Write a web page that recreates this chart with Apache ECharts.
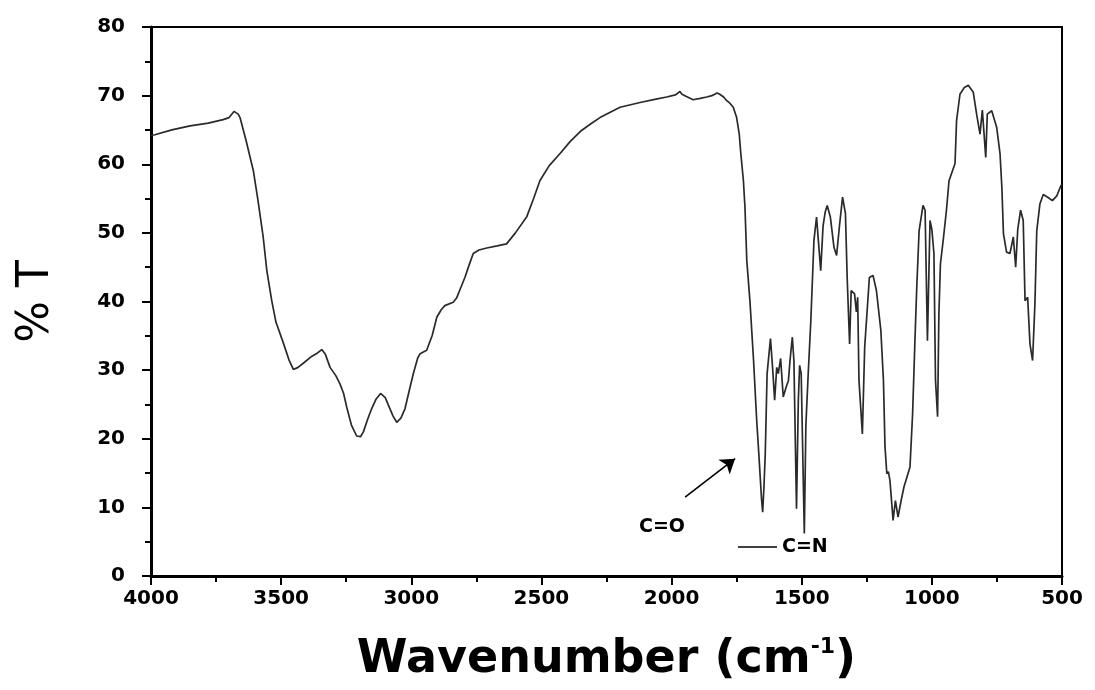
<!DOCTYPE html>
<html>
<head>
<meta charset="utf-8">
<script src="https://cdn.jsdelivr.net/npm/echarts@6/dist/echarts.min.js"></script>
<style>
html,body{margin:0;padding:0;background:#fff;}
#chart{width:1095px;height:690px;}
</style>
</head>
<body>
<div id="chart"></div>
<script>
// Wavenumber (cm-1), left to right
var wavenumbers = [
4000,3985,3920,3850,3780,3723,3700,3681,3665,3658,3635,3607,3590,3569,3555,3536,3520,3491,3470,3453,
3435,3415,3383,3360,3344,3330,3312,3290,3274,3260,3248,3230,3210,3195,3184,3168,3152,3135,3118,3100,
3088,3070,3056,3040,3024,3008,2992,2975,2966,2941,2920,2902,2885,2871,2839,2826,2810,2794,2778,2762,
2740,2710,2670,2634,2600,2557,2530,2506,2470,2430,2390,2350,2310,2275,2198,2121,2060,2019,1985,1968,
1960,1945,1917,1890,1865,1845,1834,1825,1815,1800,1789,1776,1763,1750,1740,1735,1724,1718,1711,1699,
1685,1673,1665,1654,1650,1645,1640,1633,1620,1612,1604,1596,1590,1581,1571,1560,1551,1545,1536,1530,
1520,1513,1508,1502,1490,1484,1475,1465,1453,1443,1436,1427,1418,1410,1402,1390,1376,1366,1355,1343,
1332,1325,1316,1310,1297,1290,1285,1280,1267,1258,1240,1226,1213,1196,1186,1180,1173,1167,1161,1149,
1140,1130,1118,1107,1084,1074,1065,1058,1049,1034,1026,1017,1007,1000,992,986,978,973,967,955,
944,934,911,905,892,875,860,841,828,815,806,793,787,770,751,738,731,725,713,700,
687,678,670,659,649,642,632,623,613,604,597,585,572,555,537,520,504,500
];
// Transmittance (%T)
var transmittance = [
64.2,64.3,65.0,65.6,66.0,66.5,66.8,67.7,67.3,66.8,63.5,59.1,55.0,49.4,44.5,40.1,37.0,33.9,31.5,30.1,
30.4,31.0,32.0,32.5,33.0,32.3,30.4,29.2,28.0,26.6,24.6,22.0,20.4,20.3,21.0,22.8,24.4,25.8,26.6,26.0,
24.9,23.3,22.4,23.0,24.4,27.0,29.5,31.8,32.4,32.9,35.0,37.7,38.8,39.4,39.9,40.5,42.0,43.5,45.3,47.0,
47.5,47.8,48.1,48.4,50.0,52.3,55.0,57.6,59.8,61.5,63.3,64.8,65.9,66.8,68.3,69.0,69.5,69.8,70.1,70.6,
70.2,69.9,69.4,69.6,69.8,70.0,70.2,70.4,70.2,69.8,69.3,68.9,68.3,66.8,64.4,62.0,57.6,53.7,46.0,40.1,
31.4,22.7,17.9,11.0,9.3,13.0,17.9,29.5,34.6,30.4,25.6,30.4,29.5,31.7,26.1,27.5,28.5,31.4,34.8,31.4,
9.8,25.6,30.7,29.5,6.2,22.0,29.5,37.2,48.9,52.3,52.3,44.5,51.0,53.0,54.0,52.3,47.9,46.7,51.0,55.2,
52.8,43.1,33.8,41.6,41.1,38.5,40.6,28.5,20.7,33.4,43.5,43.8,41.6,35.8,28.5,18.8,14.9,15.2,13.9,8.1,
11.0,8.6,11.0,13.0,15.9,23.6,34.3,42.1,50.3,54.0,53.3,34.3,51.8,50.5,47.0,28.5,23.2,38.2,45.5,49.4,
53.3,57.6,60.1,66.4,70.2,71.2,71.5,70.5,67.3,64.4,67.9,61.0,67.3,67.8,65.4,61.5,56.6,49.9,47.2,47.0,
49.4,45.0,50.5,53.3,51.8,40.1,40.6,33.8,31.4,39.7,50.3,54.2,55.6,55.2,54.7,55.4,56.9,57.0
];
// Annotations: [label, wavenumber, %T]
var annotationLabels = ["C=O", "C=N"];
var annotationPos = [[2037, 7.1], [1488, 4.2]];
var arrowFrom = [1948, 11.5];
var arrowTo = [1756, 17.1];
var bondLineFrom = [1745, 4.2];
var bondLineTo = [1595, 4.2];

var points = wavenumbers.map(function (w, i) { return [w, transmittance[i]]; });

var chart = echarts.init(document.getElementById('chart'), null, {renderer: 'canvas'});
var tickFont = {fontFamily: 'DejaVu Sans', fontWeight: 'bold', fontSize: 20, color: '#000',
  formatter: function (v) { return String(v); }};

chart.setOption({
  animation: false,
  backgroundColor: '#fff',
  grid: {left: 151, right: 33, top: 27, bottom: 114, show: true, borderColor: '#000', borderWidth: 2},
  xAxis: {
    type: 'value', min: 500, max: 4000, interval: 500, inverse: true,
    name: 'Wavenumber (cm{sup|-1})',
    nameLocation: 'middle', nameGap: 60,
    nameTextStyle: {
      fontFamily: 'DejaVu Sans', fontWeight: 'bold', fontSize: 46, color: '#000',
      rich: {sup: {fontFamily: 'DejaVu Sans', fontWeight: 'bold', fontSize: 22, color: '#000', verticalAlign: 'top', padding: [0, 0, 26, 0]}}
    },
    axisLine: {show: true, onZero: false, lineStyle: {color: '#000', width: 3}},
    axisTick: {show: true, inside: false, length: 9, lineStyle: {color: '#000', width: 2}},
    minorTick: {show: true, splitNumber: 2, length: 6, lineStyle: {color: '#000', width: 2}},
    axisLabel: Object.assign({margin: 13}, tickFont),
    splitLine: {show: false}
  },
  yAxis: {
    type: 'value', min: 0, max: 80, interval: 10,
    name: '% T', nameLocation: 'middle', nameGap: 92, nameRotate: 90,
    nameTextStyle: {fontFamily: 'DejaVu Sans', fontSize: 44, color: '#000'},
    axisLine: {show: true, onZero: false, lineStyle: {color: '#000', width: 3}},
    axisTick: {show: true, inside: false, length: 9, lineStyle: {color: '#000', width: 2}},
    minorTick: {show: true, splitNumber: 2, length: 6, lineStyle: {color: '#000', width: 2}},
    axisLabel: Object.assign({margin: 26}, tickFont),
    splitLine: {show: false}
  },
  series: [{
    type: 'line',
    data: points,
    showSymbol: false,
    symbol: 'none',
    lineStyle: {color: '#2a2a2a', width: 1.7},
    markLine: {
      silent: true,
      animation: false,
      label: {show: false},
      lineStyle: {color: '#000', width: 1.6, type: 'solid'},
      data: [
        [{coord: arrowFrom, symbol: 'none'}, {coord: arrowTo, symbol: 'arrow', symbolSize: 14}],
        [{coord: bondLineFrom, symbol: 'none'}, {coord: bondLineTo, symbol: 'none'}]
      ]
    },
    markPoint: {
      silent: true,
      animation: false,
      symbol: 'circle',
      symbolSize: 0,
      data: annotationLabels.map(function (t, i) {
        return {
          coord: annotationPos[i],
          label: {show: true, position: 'inside', formatter: t,
            fontFamily: 'DejaVu Sans', fontWeight: 'bold', fontSize: 19, color: '#000'}
        };
      })
    }
  }]
});
</script>
</body>
</html>
